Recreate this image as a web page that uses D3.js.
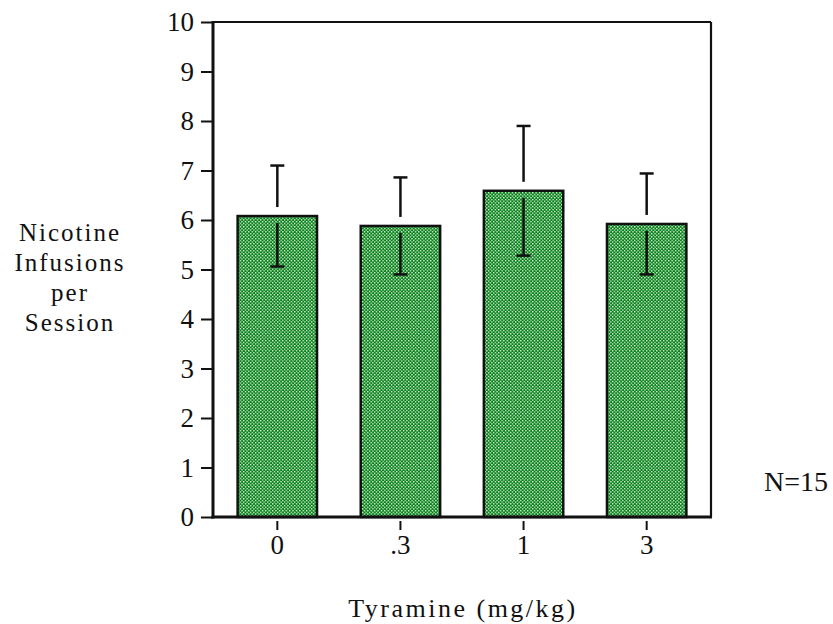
<!DOCTYPE html>
<html>
<head>
<meta charset="utf-8">
<script src="https://cdn.jsdelivr.net/npm/d3@7"></script>
<style>
  body { margin: 0; background: #fff; }
  text { font-family: "Liberation Serif", "Times New Roman", serif; fill: #111; }
</style>
</head>
<body>
<svg id="chart" width="833" height="624"></svg>
<script>
// doses and mean +/- sem
let doses = ['0', '.3', '1', '3'];
let means = [6.08, 5.88, 6.59, 5.92];
let sems = [1.02, 0.98, 1.31, 1.02];
let yTicks = [0, 1, 2, 3, 4, 5, 6, 7, 8, 9, 10];
let yLabelLines = ['Nicotine', 'Infusions', 'per', 'Session'];

let svg = d3.select('#chart');
let plotLeft = 213, plotRight = 711, plotTop = 22, plotBottom = 517;

let x = d3.scaleBand().domain(doses).range([plotLeft, plotRight]).paddingInner(0.355).paddingOuter(0.2);
let y = d3.scaleLinear().domain([0, 10]).range([plotBottom, plotTop]);

// checker fill
let pat = svg.append('defs').append('pattern')
    .attr('id', 'checks').attr('patternUnits', 'userSpaceOnUse')
    .attr('width', 3.4).attr('height', 3.4);
pat.append('rect').attr('width', 3.4).attr('height', 3.4).attr('fill', '#007f12');
pat.append('rect').attr('width', 1.3).attr('height', 1.3).attr('fill', '#fff');
pat.append('rect').attr('x', 1.7).attr('y', 1.7).attr('width', 1.3).attr('height', 1.3).attr('fill', '#fff');

// bars
svg.selectAll('.bar').data(doses).enter().append('rect')
    .attr('class', 'bar')
    .attr('x', d => x(d))
    .attr('y', (d, i) => y(means[i]))
    .attr('width', x.bandwidth())
    .attr('height', (d, i) => plotBottom - y(means[i]))
    .attr('fill', 'url(#checks)')
    .attr('stroke', '#111').attr('stroke-width', 2.5);

// error bars, small gap around the bar top like the original
let err = svg.append('g').attr('stroke', '#111').attr('stroke-width', 2.5);
doses.forEach((d, i) => {
    let cx = x(d) + x.bandwidth() / 2;
    let yt = y(means[i]);
    let yHi = y(means[i] + sems[i]);
    let yLo = y(means[i] - sems[i]);
    err.append('line').attr('x1', cx).attr('x2', cx).attr('y1', yHi).attr('y2', yt - 9);
    err.append('line').attr('x1', cx - 7).attr('x2', cx + 7).attr('y1', yHi).attr('y2', yHi);
    err.append('line').attr('x1', cx).attr('x2', cx).attr('y1', yt + 7).attr('y2', yLo);
    err.append('line').attr('x1', cx - 7).attr('x2', cx + 7).attr('y1', yLo).attr('y2', yLo);
});

// frame
svg.append('line').attr('x1', plotLeft).attr('x2', plotRight).attr('y1', plotTop).attr('y2', plotTop)
    .attr('stroke', '#111').attr('stroke-width', 2.2);
svg.append('line').attr('x1', plotRight).attr('x2', plotRight).attr('y1', plotTop).attr('y2', plotBottom)
    .attr('stroke', '#111').attr('stroke-width', 2.2);

// y axis
let yAxis = svg.append('g').attr('transform', `translate(${plotLeft},0)`)
    .call(d3.axisLeft(y).tickValues(yTicks).tickSize(12).tickPadding(7));
yAxis.select('.domain').attr('stroke', '#111').attr('stroke-width', 3).attr('d', `M0,${plotTop - 1}V${plotBottom + 1.5}`);
yAxis.selectAll('.tick line').attr('stroke', '#111').attr('stroke-width', 2);
yAxis.selectAll('.tick text').style('font-size', '27px').attr('fill', '#111');

// x axis
svg.append('line').attr('x1', plotLeft - 1.5).attr('x2', plotRight + 1).attr('y1', plotBottom).attr('y2', plotBottom)
    .attr('stroke', '#111').attr('stroke-width', 3);
let xAxis = svg.append('g').attr('transform', `translate(0,${plotBottom + 4})`)
    .call(d3.axisBottom(x).tickSize(9).tickPadding(5));
xAxis.select('.domain').remove();
xAxis.selectAll('.tick line').attr('stroke', '#111').attr('stroke-width', 2);
xAxis.selectAll('.tick text').style('font-size', '27px').attr('fill', '#111');

// titles
svg.append('text').attr('x', 463).attr('y', 617).attr('text-anchor', 'middle')
    .style('font-size', '26px').style('letter-spacing', '2.5px').text('Tyramine (mg/kg)');

svg.append('g').selectAll('text').data(yLabelLines).enter().append('text')
    .attr('x', 70).attr('y', (d, i) => 241 + i * 30)
    .attr('text-anchor', 'middle')
    .style('font-size', '25px').style('letter-spacing', '2px')
    .text(d => d);

svg.append('text').attr('x', 796).attr('y', 491).attr('text-anchor', 'middle')
    .style('font-size', '28px').text('N=15');
</script>
</body>
</html>
